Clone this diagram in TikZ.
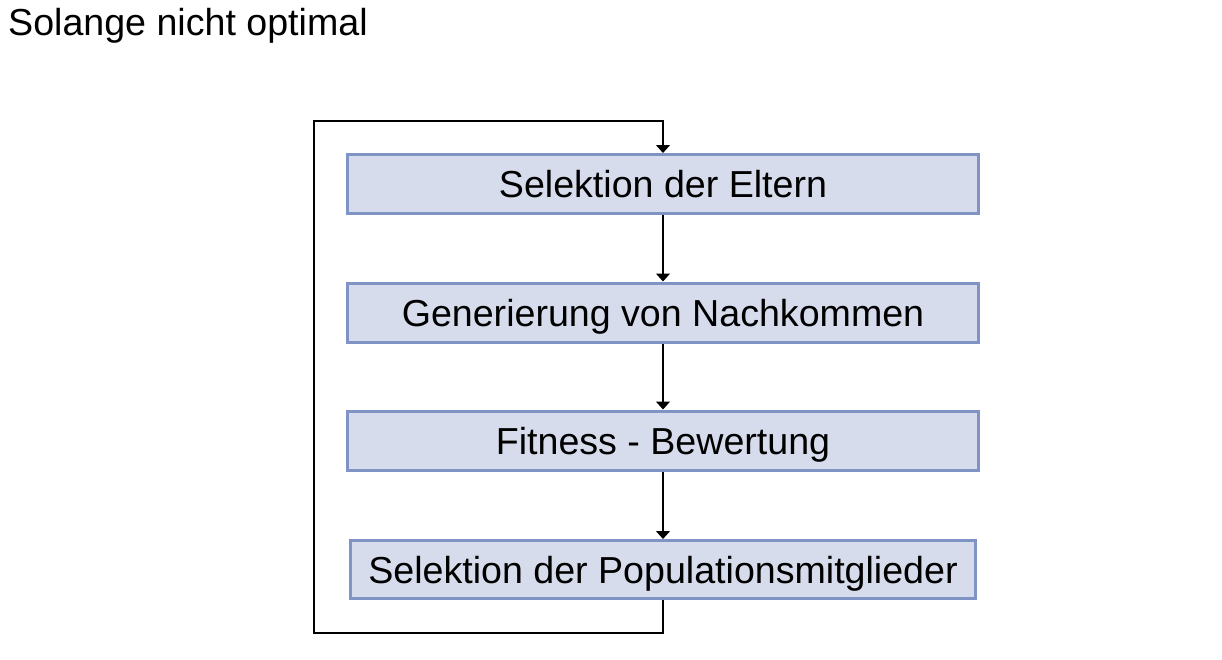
\documentclass[tikz,border=0pt]{standalone}
\usepackage{fontspec}
\setmainfont{Liberation Sans}
\usetikzlibrary{arrows.meta}
\begin{document}
\begin{tikzpicture}[x=1pt,y=-1pt,
  box/.style={draw=boxline,fill=boxfill,line width=3pt,minimum width=631pt,minimum height=59pt,inner sep=0pt,text height=27pt,text depth=0pt,font=\fontsize{37.6}{40}\selectfont},
  arr/.style={line width=1.3pt,-{Triangle[width=14pt,length=8pt]}}]
\definecolor{boxline}{HTML}{7F93C4}
\definecolor{boxfill}{HTML}{D6DCEC}
\useasboundingbox (0,0) rectangle (1222,659);
\node[anchor=base west,inner sep=0pt,font=\fontsize{37.6}{40}\selectfont] (title) at (8,35) {Solange nicht optimal};
\node[box] (b1) at (663,184) {Selektion der Eltern};
\node[box] (b2) at (663,312.5) {Generierung von Nachkommen};
\node[box] (b3) at (663,440.5) {Fitness - Bewertung};
\node[box,minimum width=625pt,minimum height=58pt] (b4) at (663,569.5) {Selektion der Populationsmitglieder};
\draw[arr] (b1) -- (b2);
\draw[arr] (b2) -- (b3);
\draw[arr] (b3) -- (b4);
\coordinate (c1) at (663,633);
\coordinate (c2) at (314,633);
\coordinate (c3) at (314,121);
\coordinate (c4) at (663,121);
\draw[arr] (b4.south) -- (c1) -- (c2) -- (c3) -- (c4) -- (b1.north);
\end{tikzpicture}
\end{document}
